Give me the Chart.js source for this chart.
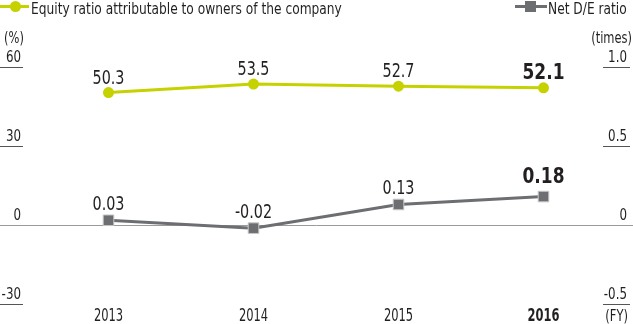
<!DOCTYPE html>
<html>
<head>
<meta charset="utf-8">
<script src="https://cdn.jsdelivr.net/npm/chart.js@4.4.0/dist/chart.umd.min.js"></script>
<style>
  html, body { margin: 0; padding: 0; background: #fff; }
  #wrap { position: relative; width: 633px; height: 324px; }
</style>
</head>
<body>
<div id="wrap"><canvas id="c" width="633" height="324"></canvas></div>
<script>
const categories = ["2013", "2014", "2015", "2016"];
const equityRatio = [50.3, 53.5, 52.7, 52.1];
const netDE = [0.03, -0.02, 0.13, 0.18];
const equityLabels = ["50.3", "53.5", "52.7", "52.1"];
const deLabels = ["0.03", "-0.02", "0.13", "0.18"];
const leftTicks = [60, 30, 0, -30];
const rightTicks = ["1.0", "0.5", "0", "-0.5"];
const rightTickValues = [1.0, 0.5, 0, -0.5];

const FONT = '"DejaVu Sans Condensed", "DejaVu Sans", sans-serif';
const GREEN = '#c5d200';
const GRAY = '#6d6e71';
const TEXT = '#231f20';

function txt(ctx, s, x, y, align, font, sx) {
  ctx.save();
  ctx.translate(x, y);
  ctx.scale(sx, 1);
  ctx.font = font;
  ctx.textAlign = align;
  ctx.textBaseline = 'alphabetic';
  ctx.fillText(s, 0, 0);
  ctx.restore();
}

const overlay = {
  id: 'overlay',
  beforeDatasetsDraw(chart) {
    const ctx = chart.ctx;
    const y = chart.scales.y;
    ctx.save();
    ctx.strokeStyle = '#9a9a9a';
    ctx.lineWidth = 1;
    const y0 = Math.round(y.getPixelForValue(0)) + 0.5;
    ctx.beginPath(); ctx.moveTo(0, y0); ctx.lineTo(chart.width, y0); ctx.stroke();
    ctx.restore();
  },
  afterDatasetsDraw(chart) {
    const ctx = chart.ctx;
    const x = chart.scales.x, y = chart.scales.y, y1 = chart.scales.y1;
    ctx.save();
    ctx.fillStyle = TEXT;
    const tickFont = '15px ' + FONT;
    ctx.strokeStyle = '#555';
    ctx.lineWidth = 1;
    leftTicks.forEach(v => {
      const py = Math.round(y.getPixelForValue(v));
      txt(ctx, String(v), 21, py - 5, 'right', tickFont, 0.88);
      if (v !== 0) {
        ctx.beginPath(); ctx.moveTo(0, py + 0.5); ctx.lineTo(23, py + 0.5); ctx.stroke();
      }
    });
    rightTicks.forEach((t, i) => {
      const py = Math.round(y1.getPixelForValue(rightTickValues[i]));
      txt(ctx, t, 627, py - 5, 'right', tickFont, 0.88);
      if (rightTickValues[i] !== 0) {
        ctx.beginPath(); ctx.moveTo(603, py + 0.5); ctx.lineTo(630, py + 0.5); ctx.stroke();
      }
    });
    txt(ctx, '(%)', 4, 43, 'left', tickFont, 0.85);
    txt(ctx, '(times)', 632, 43, 'right', tickFont, 0.85);
    txt(ctx, '(FY)', 628, 321, 'right', '16px ' + FONT, 0.8);
    // x labels
    categories.forEach((c, i) => {
      const px = x.getPixelForValue(i);
      const last = i === categories.length - 1;
      txt(ctx, c, px, 321, 'center', (last ? 'bold ' : '') + '17px ' + FONT, 0.75);
    });
    // data labels
    const m0 = chart.getDatasetMeta(0), m1 = chart.getDatasetMeta(1);
    equityLabels.forEach((t, i) => {
      const last = i === equityLabels.length - 1;
      const p = m0.data[i];
      txt(ctx, t, p.x, p.y - 9, 'center', (last ? 'bold 21px ' : '19px ') + FONT, last ? 0.9 : 0.84);
    });
    deLabels.forEach((t, i) => {
      const last = i === deLabels.length - 1;
      const p = m1.data[i];
      txt(ctx, t, p.x, p.y - (last ? 14 : 10), 'center', (last ? 'bold 21px ' : '19px ') + FONT, last ? 0.9 : 0.84);
    });
    // legends
    ctx.lineWidth = 3;
    ctx.strokeStyle = GREEN;
    ctx.beginPath(); ctx.moveTo(0, 6.5); ctx.lineTo(29, 6.5); ctx.stroke();
    ctx.fillStyle = GREEN;
    ctx.beginPath(); ctx.arc(15.5, 6.5, 5.5, 0, Math.PI * 2); ctx.fill();
    ctx.fillStyle = TEXT;
    txt(ctx, 'Equity ratio attributable to owners of the company', 31, 13.5, 'left', '16px ' + FONT, 0.85);
    ctx.strokeStyle = GRAY;
    ctx.beginPath(); ctx.moveTo(515, 6.5); ctx.lineTo(547, 6.5); ctx.stroke();
    ctx.fillStyle = GRAY;
    ctx.fillRect(525, 1, 11, 11);
    ctx.fillStyle = TEXT;
    txt(ctx, 'Net D/E ratio', 548, 13.5, 'left', '16px ' + FONT, 0.85);
    ctx.restore();
  }
};

new Chart(document.getElementById('c'), {
  type: 'line',
  data: {
    labels: categories,
    datasets: [
      {
        label: 'Equity ratio attributable to owners of the company',
        data: equityRatio,
        yAxisID: 'y',
        borderColor: GREEN,
        backgroundColor: GREEN,
        borderWidth: 3,
        pointRadius: 5.5,
        pointBorderWidth: 0,
        pointStyle: 'circle',
        tension: 0
      },
      {
        label: 'Net D/E ratio',
        data: netDE,
        yAxisID: 'y1',
        borderColor: GRAY,
        backgroundColor: GRAY,
        borderWidth: 3,
        pointRadius: 7.5,
        pointBorderWidth: 1,
        pointBorderColor: '#c8c8c8',
        pointStyle: 'rect',
        tension: 0
      }
    ]
  },
  options: {
    responsive: false,
    animation: false,
    layout: { padding: { left: 36, right: 17, top: 67, bottom: 20 } },
    plugins: { legend: { display: false }, tooltip: { enabled: false } },
    scales: {
      x: { display: false, offset: true },
      y: { display: false, min: -30, max: 60 },
      y1: { display: false, min: -0.5, max: 1.0, position: 'right' }
    }
  },
  plugins: [overlay]
});
</script>
</body>
</html>
